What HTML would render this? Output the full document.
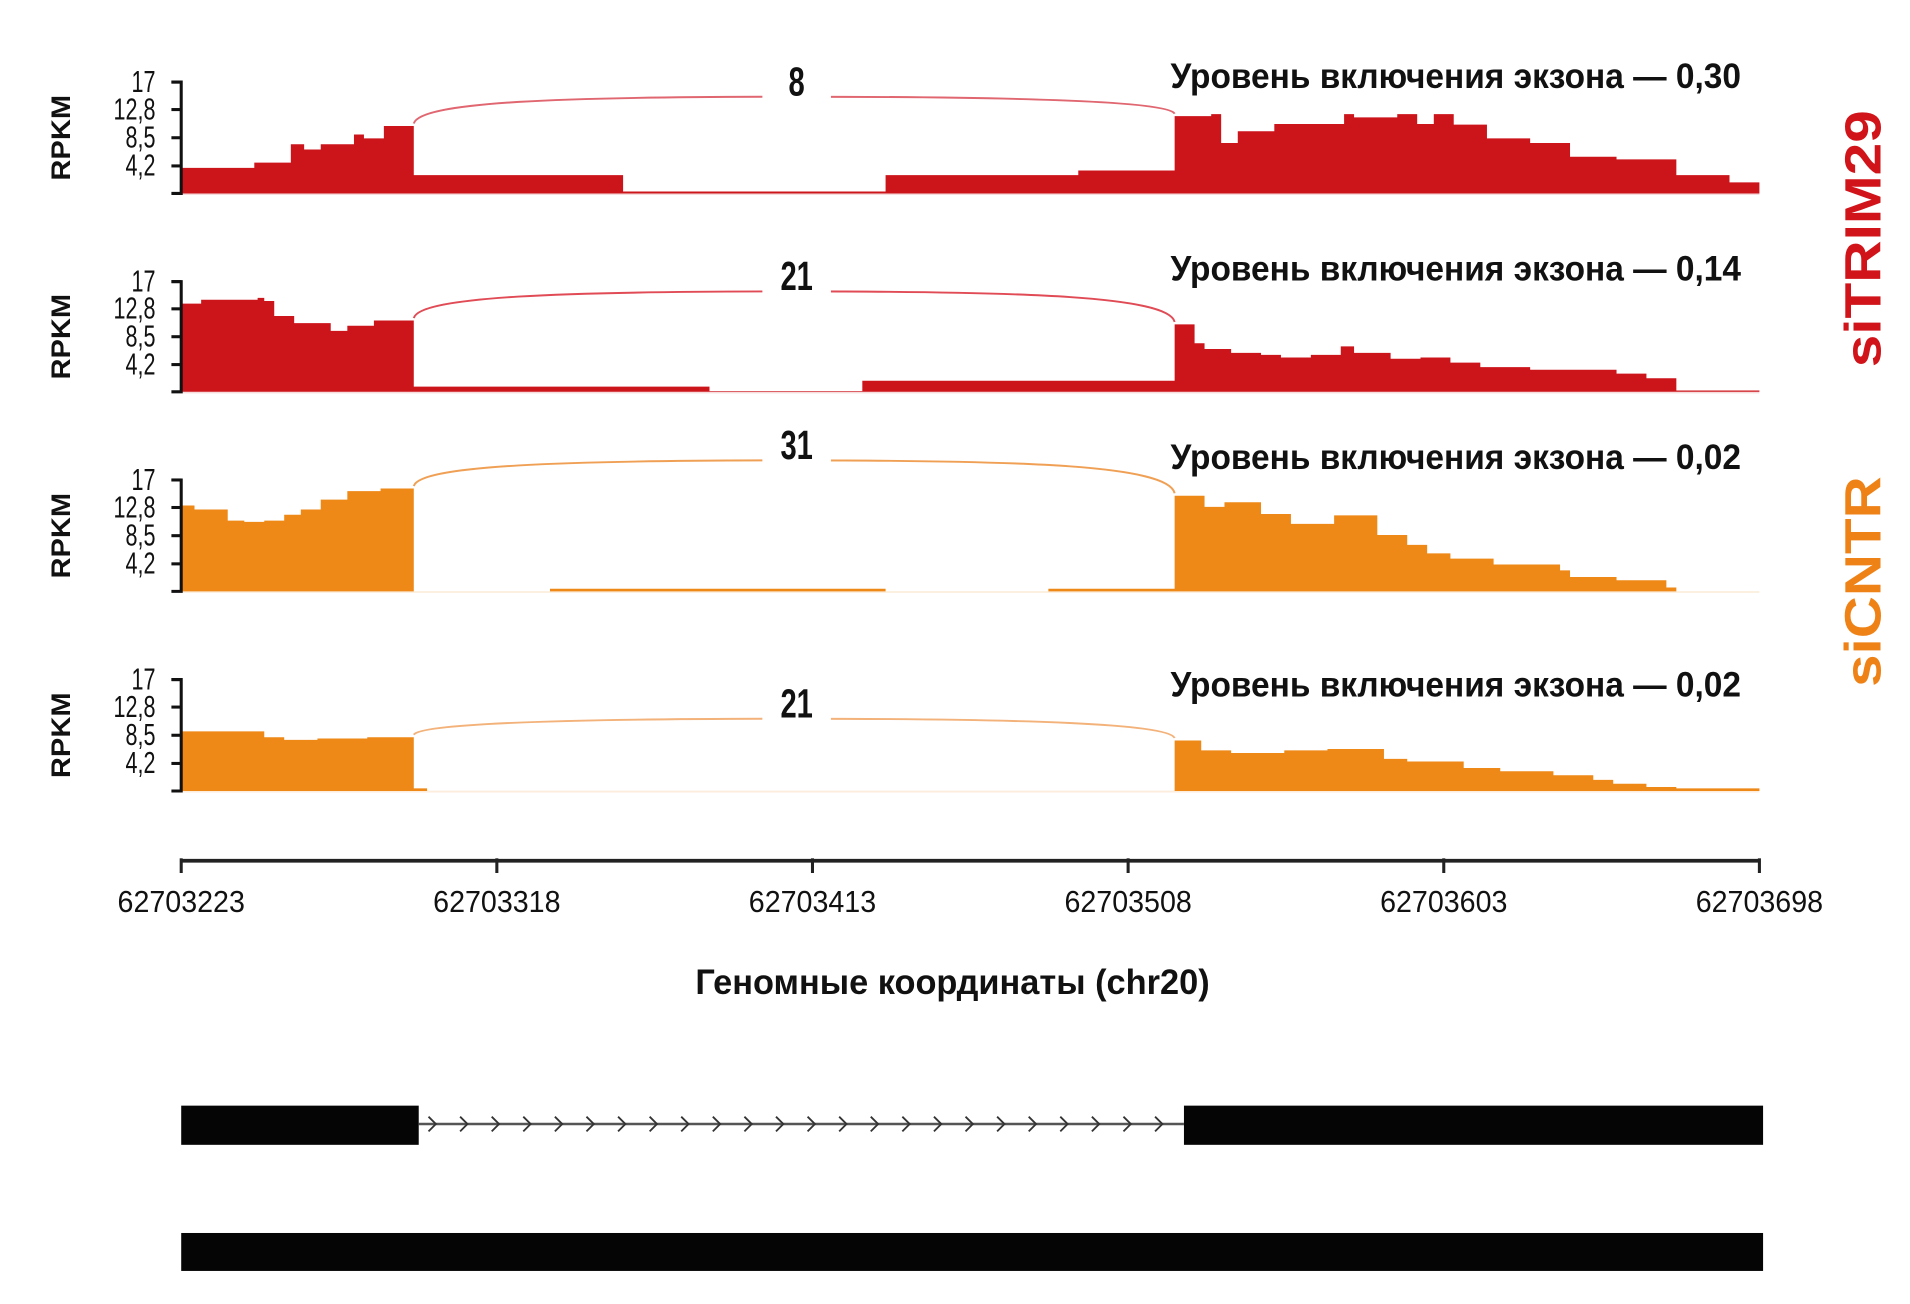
<!DOCTYPE html>
<html><head><meta charset="utf-8">
<style>
html,body{margin:0;padding:0;background:#fff;}
svg{display:block;}
.n{font-family:"Liberation Sans Narrow","Liberation Sans",sans-serif;}
.b{font-family:"Liberation Sans","DejaVu Sans",sans-serif;font-weight:bold;}
</style></head>
<body>
<svg id="chart" width="1910" height="1304" viewBox="0 0 1560 1065" preserveAspectRatio="none" xmlns="http://www.w3.org/2000/svg">
<g id="tracks"></g>
<g id="xaxis"></g>
<text class="n" x="778" y="812" text-anchor="middle" font-size="29" font-weight="bold" fill="#111" textLength="420" lengthAdjust="spacingAndGlyphs">Геномные координаты (chr20)</text>
<text class="b" transform="translate(1536,195) rotate(-90)" text-anchor="middle" font-size="42" fill="#d0141a" textLength="210" lengthAdjust="spacingAndGlyphs">siTRIM29</text>
<text class="b" transform="translate(1536,475) rotate(-90)" text-anchor="middle" font-size="42" fill="#ef8216" textLength="172" lengthAdjust="spacingAndGlyphs">siCNTR</text>
<g id="gene"></g>
</svg>
<script>
const NS="http://www.w3.org/2000/svg";
const genomeStart=62703223, genomeEnd=62703698;
const tickLabels=["62703223","62703318","62703413","62703508","62703603","62703698"];
const yTickValues=[4.2,8.5,12.8,17];
const yTickLabels=["4,2","8,5","12,8","17"];
const junctionCounts=[8,21,31,21];
const inclusionLevels=["0,30","0,14","0,02","0,02"];
const trackColors=["#cc141b","#cc141b","#ee8816","#ee8816"];
const arcColors=["#e06670","#e04b55","#f0a055","#f3b27a"];
const t1Starts=[0,22,33,37,42,52,55,61,70,133,212,270,299,310,313,318,329,350,353,366,372,377,383,393,406,418,432,450,466];
const t1Values=[3.9,4.7,7.5,6.7,7.5,9,8.4,10.3,2.8,0.3,2.8,3.5,11.8,12.1,7.7,9.5,10.6,12.1,11.6,12.1,10.6,12.1,10.5,8.4,7.7,5.6,5.2,2.8,1.7];
const t2Starts=[0,6,23,25,28,34,45,50,58,70,159,205,299,305,308,316,325,331,340,349,353,364,373,382,391,406,432,441,450];
const t2Values=[13.6,14.2,14.5,14,11.7,10.6,9.4,10.2,11,0.8,0.1,1.7,10.4,7.5,6.6,6,5.7,5.3,5.7,7,6,5.1,5.3,4.5,3.8,3.4,2.8,2.1,0.2];
const t3Starts=[0,4,14,19,25,31,36,42,50,60,70,111,212,261,299,308,314,325,334,347,360,369,375,382,395,415,418,432,447,450];
const t3Values=[13.1,12.5,10.8,10.6,10.8,11.7,12.5,14,15.3,15.7,0,0.4,0,0.4,14.6,12.9,13.6,11.8,10.3,11.6,8.6,7.1,5.8,5,4.1,3.2,2.2,1.7,0.6,0];
const t4Starts=[0,25,31,41,56,70,74,299,307,316,332,345,362,369,386,397,413,425,431,441,450];
const t4Values=[9.1,8.2,7.8,8,8.2,0.4,0,7.7,6.2,5.8,6.2,6.4,4.9,4.5,3.5,3,2.4,1.7,1.1,0.6,0.4];
const trackStarts=[t1Starts,t2Starts,t3Starts,t4Starts];
const trackValues=[t1Values,t2Values,t3Values,t4Values];
const exon1End=70, exon2Start=299, leftExonGeneEnd=71, rightExonGeneStart=301;

const X0=148,X1=1437;
const tops=[67,230,392,555], bases=[158,320,483,646];
const arcTops=[79,238,376,587];
const yMax=17;
function xs(off){return X0+off*(X1-X0)/(genomeEnd-genomeStart);}
function ys(i,v){return bases[i]-v/yMax*(bases[i]-tops[i]);}
function mk(tag,attrs,parent){const e=document.createElementNS(NS,tag);for(const k in attrs)e.setAttribute(k,attrs[k]);parent.appendChild(e);return e;}

const tracks=document.getElementById('tracks');
for(let i=0;i<4;i++){
  const g=mk('g',{},tracks);
  
  
  const st=trackStarts[i],vl=trackValues[i];
  let d='M'+xs(0)+','+bases[i];
  for(let k=0;k<st.length;k++){
    const x0=xs(st[k]),x1=xs(k+1<st.length?st[k+1]:genomeEnd-genomeStart),y=ys(i,vl[k]);
    d+=' L'+x0+','+y+' L'+x1+','+y;
  }
  d+=' L'+xs(genomeEnd-genomeStart)+','+bases[i]+' Z';
  const p=mk('path',{d:d,fill:trackColors[i]},g);
  
  
  mk('line',{x1:X0,x2:X1,y1:bases[i]+0.5,y2:bases[i]+0.5,stroke:trackColors[i],'stroke-opacity':0.15,'stroke-width':1.5},g);
  const ax=mk('path',{d:'M140,'+tops[i]+' H148 V'+bases[i]+' H140',fill:'none',stroke:'#111','stroke-width':2.5},g);
  
  
  yTickValues.forEach((v,k)=>{
    const y=ys(i,v);
    mk('line',{x1:140,x2:148,y1:y,y2:y,stroke:'#111','stroke-width':2.5},g);
    const t=mk('text',{transform:'translate(127,'+(y+8)+') scale(0.8,1.15)','text-anchor':'end','font-size':22,class:'n',fill:'#111'},g);
    
    
    t.textContent=yTickLabels[k];
  });
  const yl=mk('text',{transform:'translate(57,'+((tops[i]+bases[i])/2)+') rotate(-90)','text-anchor':'middle','font-size':22,class:'b',fill:'#111',textLength:70,lengthAdjust:'spacingAndGlyphs'},g);
  
  
  yl.textContent='RPKM';
  const xa=xs(exon1End),xb=xs(exon2Start);
  const ya=Math.min(ys(i,vl[st.indexOf(exon1End)-1]),bases[i])-2;
  const yb=ys(i,vl[st.indexOf(exon2Start)])-2;
  const top=arcTops[i];
  const arc=mk('path',{d:'M'+xa+','+ya+' C'+(xa+5)+','+(top+4)+' '+(xa+120)+','+top+' '+((xa+xb)/2)+','+top+' C'+(xb-120)+','+top+' '+(xb-5)+','+(top+4)+' '+xb+','+yb,fill:'none',stroke:arcColors[i],'stroke-width':1.6},g);
  
  
  const lx=(xa+xb)/2+2;
  mk('rect',{x:lx-28,y:top-22,width:56,height:34,fill:'#fff'},g);
  const jl=mk('text',{transform:'translate('+lx+','+(top-1)+') scale(0.85,1.2)','text-anchor':'middle','font-size':28,class:'n','font-weight':'bold',fill:'#111'},g);
  
  
  jl.textContent=junctionCounts[i];
  const il=mk('text',{x:1422,y:[72,229,383,569][i],'text-anchor':'end','font-size':29,class:'n','font-weight':'bold',fill:'#111',textLength:466,lengthAdjust:'spacingAndGlyphs'},g);
  
  
  il.textContent='Уровень включения экзона — '+inclusionLevels[i];
}

const xa=document.getElementById('xaxis');
mk('line',{x1:X0,x2:X1+1,y1:703,y2:703,stroke:'#222','stroke-width':3},xa);
tickLabels.forEach((lab,k)=>{
  const x=xs(Number(lab)-genomeStart);
  const tk=mk('line',{x1:x,x2:x,y1:701,y2:713,stroke:'#222','stroke-width':2.5},xa);
  
  
  const t=mk('text',{x:x,y:745,'text-anchor':'middle','font-size':25,class:'n',fill:'#111',textLength:104,lengthAdjust:'spacingAndGlyphs'},xa);
  
  
  t.textContent=lab;
});

const gene=document.getElementById('gene');
const e1=mk('rect',{x:148,y:903,width:342-148,height:32,fill:'#050505'},gene);


const e2=mk('rect',{x:967,y:903,width:1440-967,height:32,fill:'#050505'},gene);


const intr=mk('line',{x1:342,x2:967,y1:918,y2:918,stroke:'#555','stroke-width':2},gene);


for(let x=350;x<955;x+=25.8){
  mk('path',{d:'M'+x+',912 L'+(x+6)+',918 L'+x+',924',fill:'none',stroke:'#333','stroke-width':1.5},gene);
}
const tr2=mk('rect',{x:148,y:1007,width:1292,height:31,fill:'#050505'},gene);


</script>
</body></html>
